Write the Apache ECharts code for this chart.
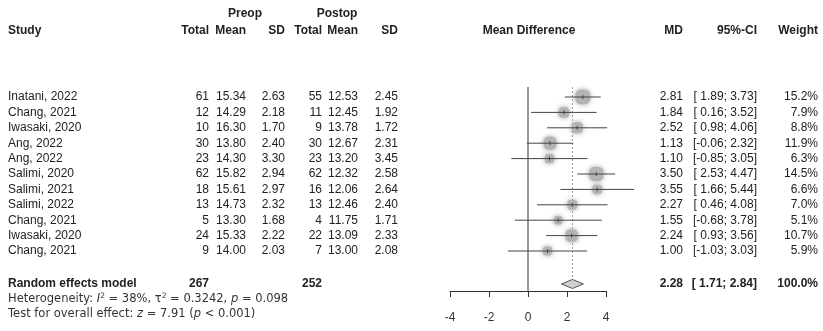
<!DOCTYPE html>
<html>
<head>
<meta charset="utf-8">
<script src="https://cdn.jsdelivr.net/npm/echarts@6/dist/echarts.min.js"></script>
<style>
html,body{margin:0;padding:0;background:#fff;}
#c{width:823px;height:331px;}
</style>
</head>
<body>
<div id="c"></div>
<script>
// ---- data ----
const studies = ["Inatani, 2022","Chang, 2021","Iwasaki, 2020","Ang, 2022","Ang, 2022","Salimi, 2020","Salimi, 2021","Salimi, 2022","Chang, 2021","Iwasaki, 2020","Chang, 2021"];
const preTotal = [61,12,10,30,23,62,18,13,5,24,9];
const preMean = [15.34,14.29,16.30,13.80,14.30,15.82,15.61,14.73,13.30,15.33,14.00];
const preSD = [2.63,2.18,1.70,2.40,3.30,2.94,2.97,2.32,1.68,2.22,2.03];
const postTotal = [55,11,9,30,23,62,16,13,4,22,7];
const postMean = [12.53,12.45,13.78,12.67,13.20,12.32,12.06,12.46,11.75,13.09,13.00];
const postSD = [2.45,1.92,1.72,2.31,3.45,2.58,2.64,2.40,1.71,2.33,2.08];
const md = [2.81,1.84,2.52,1.13,1.10,3.50,3.55,2.27,1.55,2.24,1.00];
const ciLow = [1.89,0.16,0.98,-0.06,-0.85,2.53,1.66,0.46,-0.68,0.93,-1.03];
const ciHigh = [3.73,3.52,4.06,2.32,3.05,4.47,5.44,4.08,3.78,3.56,3.03];
const weight = [15.2,7.9,8.8,11.9,6.3,14.5,6.6,7.0,5.1,10.7,5.9];
const pooledMD = 2.28, pooledLow = 1.71, pooledHigh = 2.84, pooledWeight = 100.0;
const pooledPreTotal = 267, pooledPostTotal = 252;
const xTicks = [-4,-2,0,2,4];
const modelLabel = "Random effects model";
const hetText = {i2: "38%", tau2: "0.3242", p: "0.098"};
const testText = {z: "7.91", p: "< 0.001"};

// ---- layout ----
const ROW0 = 97, ROWH = 15.4;
const rowY = r => ROW0 + ROWH * r;
const FONT = "'Liberation Sans', Arial, Helvetica, sans-serif";
const FONT2 = "'DejaVu Sans', 'Liberation Sans', sans-serif";
const TXT = '#222';
const rowsIdx = studies.map((_, i) => i);
const R_GROUP = -5.4, R_HEAD = -4.3, R_POOL = 12.14, R_HET = 13.15, R_TEST = 14.08;
const FMIN = -6, FMAX = 12.6, TMAX = 15;

function fmtCI(lo, hi) {
  return '[' + (lo < 0 ? '' : ' ') + lo.toFixed(2) + '; ' + hi.toFixed(2) + ']';
}

const textItems = [];
function addText(x, r, t, align, bold, size) {
  textItems.push({x, r, t, align, bold: !!bold, size: size || 12});
}
addText(245, R_GROUP, 'Preop', 'center', true);
addText(337, R_GROUP, 'Postop', 'center', true);
addText(8, R_HEAD, 'Study', 'left', true);
addText(209, R_HEAD, 'Total', 'right', true);
addText(246, R_HEAD, 'Mean', 'right', true);
addText(285, R_HEAD, 'SD', 'right', true);
addText(322, R_HEAD, 'Total', 'right', true);
addText(358, R_HEAD, 'Mean', 'right', true);
addText(398, R_HEAD, 'SD', 'right', true);
addText(529, R_HEAD, 'Mean Difference', 'center', true);
addText(683, R_HEAD, 'MD', 'right', true);
addText(757, R_HEAD, '95%-CI', 'right', true);
addText(818, R_HEAD, 'Weight', 'right', true);
rowsIdx.forEach(i => {
  addText(8, i, studies[i], 'left');
  addText(209, i, String(preTotal[i]), 'right');
  addText(246, i, preMean[i].toFixed(2), 'right');
  addText(285, i, preSD[i].toFixed(2), 'right');
  addText(322, i, String(postTotal[i]), 'right');
  addText(358, i, postMean[i].toFixed(2), 'right');
  addText(398, i, postSD[i].toFixed(2), 'right');
  addText(683, i, md[i].toFixed(2), 'right');
  addText(757, i, fmtCI(ciLow[i], ciHigh[i]), 'right');
  addText(818, i, weight[i].toFixed(1) + '%', 'right');
});
addText(8, R_POOL, modelLabel, 'left', true);
addText(209, R_POOL, String(pooledPreTotal), 'right', true);
addText(322, R_POOL, String(pooledPostTotal), 'right', true);
addText(683, R_POOL, pooledMD.toFixed(2), 'right', true);
addText(757, R_POOL, fmtCI(pooledLow, pooledHigh), 'right', true);
addText(818, R_POOL, pooledWeight.toFixed(1) + '%', 'right', true);

const FS2 = 11.5;
const richStyle = {
  n: {fontFamily: FONT2, fontSize: FS2, fill: '#333'},
  it: {fontFamily: FONT2, fontSize: FS2, fontStyle: 'italic', fill: '#333'},
  sup: {fontFamily: FONT2, fontSize: 7.5, fill: '#333', padding: [0, 0, 6, 0]}
};
const hetRich = '{n|Heterogeneity: }{it|I}{sup|2}{n| = ' + hetText.i2 + ', τ}{sup|2}{n| = ' + hetText.tau2 + ', }{it|p}{n| = ' + hetText.p + '}';
const testRich = '{n|Test for overall effect: }{it|z}{n| = ' + testText.z + ' (}{it|p}{n| ' + testText.p + ')}';

const chart = echarts.init(document.getElementById('c'), null, {renderer: 'canvas'});
const TOP = rowY(FMIN);
const option = {
  backgroundColor: '#fff',
  animation: false,
  grid: [
    {left: 450, width: 156, top: TOP, height: (FMAX - FMIN) * ROWH, containLabel: false},
    {left: 0, right: 0, top: TOP, height: (TMAX - FMIN) * ROWH, containLabel: false}
  ],
  xAxis: [
    {gridIndex: 0, type: 'value', min: xTicks[0], max: xTicks[xTicks.length - 1], interval: 2,
      axisLine: {show: true, onZero: false, lineStyle: {color: '#333', width: 1}},
      axisTick: {show: true, length: 6, lineStyle: {color: '#333'}},
      axisLabel: {show: true, color: '#333', fontSize: 12, fontFamily: FONT, margin: 21},
      splitLine: {show: false}},
    {gridIndex: 1, type: 'value', min: 0, max: 823, show: false}
  ],
  yAxis: [
    {gridIndex: 0, type: 'value', inverse: true, min: FMIN, max: FMAX, show: false},
    {gridIndex: 1, type: 'value', inverse: true, min: FMIN, max: TMAX, show: false}
  ],
  series: [
    {type: 'line', xAxisIndex: 0, yAxisIndex: 0, data: [[0, -0.65], [0, FMAX]], symbol: 'none',
      lineStyle: {color: '#333', width: 1}, silent: true, z: 1},
    {type: 'line', xAxisIndex: 0, yAxisIndex: 0, data: [[pooledMD, -0.65], [pooledMD, R_POOL - 0.3]], symbol: 'none',
      lineStyle: {color: '#999', width: 1, type: [2, 2]}, silent: true, z: 1},
    {type: 'custom', xAxisIndex: 0, yAxisIndex: 0, clip: false, z: 3,
      data: rowsIdx.map(i => [md[i], i, ciLow[i], ciHigh[i], weight[i]]),
      renderItem: function (params, api) {
        const r = api.value(1);
        const p = api.coord([api.value(0), r]);
        const pl = api.coord([api.value(2), r]);
        const ph = api.coord([api.value(3), r]);
        const s = 3.7 * Math.sqrt(api.value(4));
        return {type: 'group', children: [
          {type: 'rect', shape: {x: p[0] - s / 2, y: p[1] - s / 2, width: s, height: s, r: s * 0.35},
            style: {fill: '#b4b4b4', shadowBlur: 5, shadowColor: 'rgba(150,150,150,0.9)'}},
          {type: 'line', shape: {x1: pl[0], y1: pl[1], x2: ph[0], y2: ph[1]},
            style: {stroke: '#444', lineWidth: 1}},
          {type: 'line', shape: {x1: p[0], y1: p[1] - 2, x2: p[0], y2: p[1] + 2},
            style: {stroke: '#444', lineWidth: 1}}
        ]};
      }},
    {type: 'custom', xAxisIndex: 0, yAxisIndex: 0, clip: false, z: 3,
      data: [[pooledMD, R_POOL, pooledLow, pooledHigh]],
      renderItem: function (params, api) {
        const r = api.value(1);
        const p = api.coord([api.value(0), r]);
        const pl = api.coord([api.value(2), r]);
        const ph = api.coord([api.value(3), r]);
        const h = 4.5;
        return {type: 'polygon', shape: {points: [[pl[0], p[1]], [p[0], p[1] - h], [ph[0], p[1]], [p[0], p[1] + h]]},
          style: {fill: '#d0d0d0', stroke: '#555', lineWidth: 1}};
      }},
    {type: 'custom', xAxisIndex: 1, yAxisIndex: 1, clip: false, z: 5,
      data: textItems.map((t, k) => [t.x, t.r, k]),
      renderItem: function (params, api) {
        const t = textItems[api.value(2)];
        const p = api.coord([api.value(0), api.value(1)]);
        return {type: 'text', x: p[0], y: p[1], style: {
          text: t.t, textAlign: t.align, textVerticalAlign: 'middle',
          font: (t.bold ? 'bold ' : '') + t.size + 'px ' + FONT, fill: TXT}};
      }},
    {type: 'custom', xAxisIndex: 1, yAxisIndex: 1, clip: false, z: 5,
      data: [[8, R_HET, 0], [8, R_TEST, 1]],
      renderItem: function (params, api) {
        const p = api.coord([api.value(0), api.value(1)]);
        return {type: 'text', x: p[0], y: p[1], style: {
          text: api.value(2) === 0 ? hetRich : testRich, textAlign: 'left', textVerticalAlign: 'middle',
          rich: richStyle, font: FS2 + 'px ' + FONT2, fill: '#333'}};
      }}
  ]
};
chart.setOption(option);
</script>
</body>
</html>
